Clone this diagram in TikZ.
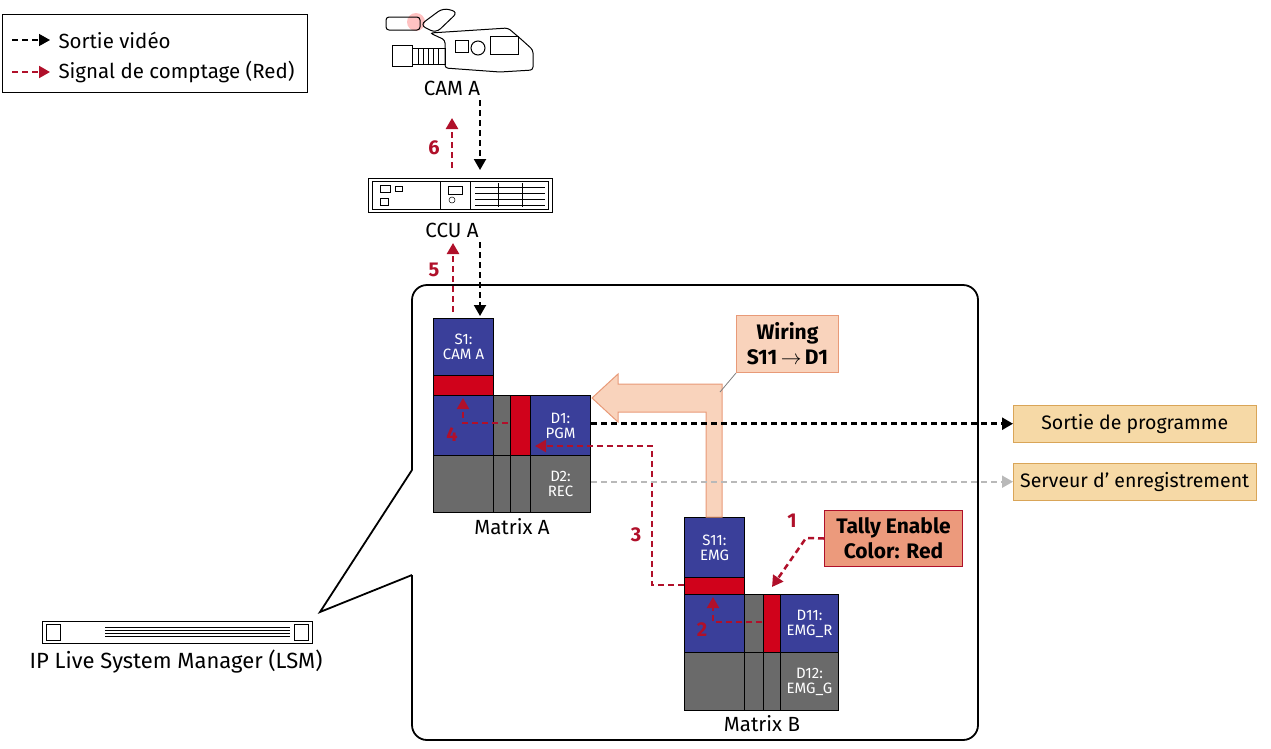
\documentclass[tikz,border=0pt]{standalone}
\usepackage{fontspec}
\setmainfont{Fira Sans}
\usetikzlibrary{arrows.meta}
\definecolor{mblue}{HTML}{3A3F9A}
\definecolor{mgray}{HTML}{6A6A6A}
\definecolor{mred}{HTML}{D0021B}
\definecolor{dred}{HTML}{B0102A}
\definecolor{peach}{HTML}{F9D3BC}
\definecolor{peachb}{HTML}{E89A78}
\definecolor{salmon}{HTML}{EC9A7C}
\definecolor{sand}{HTML}{F6D9A6}
\definecolor{sandb}{HTML}{D9A558}
\begin{document}
\begin{tikzpicture}[x=1pt,y=-1pt,
 blk/.style={draw=black,line width=1pt},
 bl/.style={blk,fill=mblue},
 gr/.style={blk,fill=mgray},
 rd/.style={blk,fill=mred},
 wt/.style={text=white,font=\fontsize{15}{15}\selectfont,align=center},
 lab/.style={font=\fontsize{20.5}{22}\selectfont},
 num/.style={text=dred,font=\bfseries\fontsize{20}{20}\selectfont},
 rdash/.style={draw=dred,line width=2.5pt,dash pattern=on 6pt off 4pt,-{Triangle[length=11pt,width=12pt]}},
 kdash/.style={draw=black,line width=2pt,dash pattern=on 6pt off 4pt,-{Triangle[length=11pt,width=12pt]}},
 outb/.style={draw=sandb,fill=sand,minimum width=243pt,minimum height=37pt,font=\fontsize{19.5}{21}\selectfont}]
\useasboundingbox (0,0) rectangle (1271,748);
% legend
\node[draw=black,line width=1pt,minimum width=305pt,minimum height=78pt,anchor=north west] (leg) at (2,14) {};
\coordinate (l1a) at (12,40); \coordinate (l1b) at (50,40);
\coordinate (l2a) at (12,72); \coordinate (l2b) at (50,72);
\draw[kdash,line width=1.5pt] (l1a) -- (l1b);
\draw[rdash,line width=2pt] (l2a) -- (l2b);
\node[lab,anchor=west] (t1) at (55,40) {Sortie vidéo};
\node[lab,anchor=west] (t2) at (55,72) {Signal de comptage (Red)};
% camera
\begin{scope}[line width=1pt]
\fill[red!40,opacity=.6] (416,22) circle (9);
\draw[rounded corners=3] (386,17) rectangle (420,30);
\draw[rounded corners=6] (420,25) -- (443,8) -- (458,12) -- (436,33) -- cycle;
\draw[rounded corners=3] (430,33) -- (508,28) -- (522,40) -- (533,50) -- (533,70) -- (500,72) -- (445,68) -- (445,40) -- cycle;
\draw (392,45) rectangle (412,66);
\draw (412,48) rectangle (445,64);
\foreach \xx in {418,423,428,433,438} \draw (\xx,48) -- (\xx,64);
\draw (478,48) circle (7);
\draw (490,36) rectangle (518,54);
\draw (455,40) rectangle (468,52);
\end{scope}
\node[lab] (cam) at (452,88) {CAM A};
% CCU
\node[draw=black,line width=1pt,minimum width=184pt,minimum height=34pt,fill=white] (ccu) at (460,195) {};
\begin{scope}[line width=.5pt]
\draw (372,181) rectangle (548,209);
\draw (440,181) -- (440,209); \draw (470,181) -- (470,209);
\foreach \yy in {187,193,199,205} \draw (475,\yy) -- (545,\yy);
\draw (498,183) -- (498,207); \draw (522,183) -- (522,207);
\draw (380,185) rectangle (390,192); \draw (395,186) rectangle (402,191);
\draw (380,198) rectangle (388,205);
\draw (448,186) rectangle (462,194); \draw (452,200) circle (3);
\end{scope}
\node[lab] (ccul) at (452,230) {CCU A};
\coordinate (a6s) at (452,168); \coordinate (a6e) at (452,118);
\coordinate (b6s) at (480,100); \coordinate (b6e) at (480,170);
\draw[rdash] (a6s) -- (a6e);
\draw[kdash] (b6s) -- (b6e);
\node[num] (n6) at (434,148) {6};
% big box
\draw[line width=1.8pt,rounded corners=15] (412,470) -- (412,285) -- (978,285) -- (978,740) -- (412,740) -- (412,575);
\draw[line width=1.8pt] (412,470) -- (320,612) -- (412,575);
\coordinate (a5s) at (453,312); \coordinate (a5e) at (453,243);
\coordinate (b5s) at (480,242); \coordinate (b5e) at (480,316);
\draw[rdash] (a5s) -- (a5e);
\draw[kdash] (b5s) -- (b5e);
\node[num] (n5) at (434,270) {5};
% LSM
\node[draw=black,line width=1pt,minimum width=270pt,minimum height=22pt] (lsm) at (177,632) {};
\draw[line width=.6pt] (46,624) rectangle (60,640);
\draw[line width=.6pt] (294,624) rectangle (308,640);
\foreach \yy in {627,630,633,636} \draw[line width=.6pt] (105,\yy) -- (290,\yy);
\node[lab,font=\fontsize{22}{24}\selectfont] (lsml) at (176,662) {IP Live System Manager (LSM)};
% Matrix A
\node[bl,minimum width=60pt,minimum height=57pt,anchor=north west,wt] (s1) at (433,318) {S1:\\CAM A};
\draw[rd] (433,375) rectangle (493,395);
\draw[bl] (433,395) rectangle (493,455);
\draw[gr] (493,395) rectangle (510,455);
\draw[rd] (510,395) rectangle (530,455);
\node[bl,minimum width=60pt,minimum height=60pt,anchor=north west,wt] (d1) at (530,395) {D1:\\PGM};
\draw[gr] (433,455) rectangle (493,512);
\draw[gr] (493,455) rectangle (510,512);
\draw[gr] (510,455) rectangle (530,512);
\node[gr,minimum width=60pt,minimum height=57pt,anchor=north west,wt] (d2) at (530,455) {D2:\\REC};
\node[lab] (ma) at (512,527) {Matrix A};
% Matrix B
\node[bl,minimum width=60pt,minimum height=60pt,anchor=north west,wt] (s11) at (684,517) {S11:\\EMG};
\draw[rd] (684,577) rectangle (744,594);
\draw[bl] (684,594) rectangle (744,652);
\draw[gr] (744,594) rectangle (763,652);
\draw[rd] (763,594) rectangle (780,652);
\node[bl,minimum width=58pt,minimum height=58pt,anchor=north west,wt] (d11) at (780,594) {D11:\\EMG\_R};
\draw[gr] (684,652) rectangle (744,710);
\draw[gr] (744,652) rectangle (763,710);
\draw[gr] (763,652) rectangle (780,710);
\node[gr,minimum width=58pt,minimum height=58pt,anchor=north west,wt] (d12) at (780,652) {D12:\\EMG\_G};
\node[lab] (mb) at (762,724) {Matrix B};
% wiring arrow
\draw[draw=peachb,fill=peach,line width=1pt] (706,517) -- (706,412) -- (618,412) -- (618,422) -- (592,398) -- (618,374) -- (618,384) -- (722,384) -- (722,517) -- cycle;
\node[draw=peachb,fill=peach,line width=1pt,minimum width=102pt,minimum height=57pt,align=center,font=\bfseries\fontsize{21}{25}\selectfont,anchor=north west] (wir) at (736,315) {Wiring\\S11$\,\rightarrow\,$D1};
\coordinate (wc) at (720,392);
\draw[gray,line width=.8pt] (wc) -- (wir.south west);
% tally
\node[draw=dred,fill=salmon,line width=1pt,minimum width=138pt,minimum height=56pt,inner sep=1pt,align=center,font=\bfseries\fontsize{21}{25}\selectfont,anchor=north west] (tal) at (824,510) {Tally Enable\\Color: Red};
\coordinate (t1c) at (806,538); \coordinate (t1e) at (772,587);
\draw[rdash] (tal.west) -- (t1c) -- (t1e);
\node[num] (n1) at (792,521) {1};
% 2
\coordinate (p2a) at (762,622); \coordinate (p2b) at (713,622); \coordinate (p2c) at (713,597);
\draw[rdash,line width=2pt] (p2a) -- (p2b) -- (p2c);
\node[num] (n2) at (702,630) {2};
% 3
\coordinate (p3a) at (684,585); \coordinate (p3b) at (652,585); \coordinate (p3c) at (652,446); \coordinate (p3d) at (535,446);
\draw[rdash] (p3a) -- (p3b) -- (p3c) -- (p3d);
\node[num] (n3) at (636,535) {3};
% 4
\coordinate (p4a) at (508,423); \coordinate (p4b) at (463,423); \coordinate (p4c) at (463,398);
\draw[rdash,line width=2pt] (p4a) -- (p4b) -- (p4c);
\node[num] (n4) at (452,435) {4};
% outputs
\node[outb,anchor=north west] (pgm) at (1013,405) {Sortie de programme};
\node[outb,anchor=north west] (rec) at (1013,463) {Serveur d' enregistrement};
\draw[kdash,line width=2.5pt] (d1.east |- pgm.west) -- (pgm.west);
\draw[draw=gray!55,line width=2pt,dash pattern=on 6pt off 4pt,-{Triangle[length=11pt,width=12pt]}] (d2.east |- rec.west) -- (rec.west);
\end{tikzpicture}
\end{document}
